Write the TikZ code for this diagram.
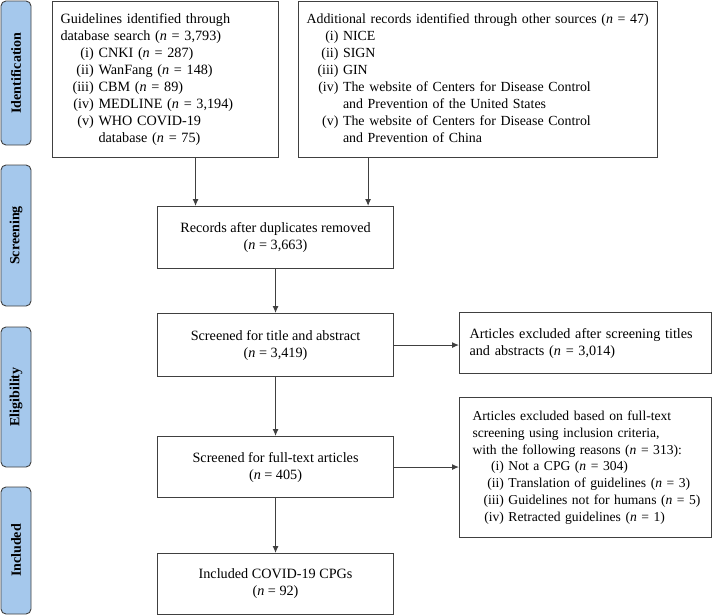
\documentclass[tikz,border=0pt]{standalone}
\usepackage{fontspec}
\setmainfont{Liberation Serif}
\usetikzlibrary{arrows.meta,positioning}
\definecolor{barblue}{RGB}{165,200,236}
\definecolor{linegray}{RGB}{64,64,64}
\newcommand{\nval}[1]{(\textit{n} = #1)}
\newcommand{\boxfont}{\fontsize{14.2}{17}\selectfont}

\begin{document}
\begin{tikzpicture}[x=1pt,y=-1pt,
    box/.style={draw=linegray,line width=1.1pt,rectangle,inner sep=0pt,font=\boxfont},
    phase/.style={draw=linegray,fill=barblue,rounded corners=5pt,line width=0.9pt,
      rotate=90,minimum height=30pt,inner sep=0pt,font=\fontsize{14}{16}\selectfont\bfseries},
    arr/.style={-{Latex[length=7pt,width=6pt]},linegray,line width=1pt}]
  \useasboundingbox (0,0) rectangle (713,616);
  % Stage bars
  \node[phase,minimum width=144pt] (ident) at (16,73) {Identification};
  \node[phase,minimum width=141pt] (screen) at (16,235.5) {Screening};
  \node[phase,minimum width=140pt] (elig) at (16,397) {Eligibility};
  \node[phase,minimum width=127pt] (incl) at (16,550.5) {Included};
  % Sources
  \node[box,anchor=north west,minimum width=226pt,minimum height=156pt,
    text width=210pt,align=left] (guide) at (52,1) {%
    \begin{tabular}{@{\hspace{12pt}}r@{ }l@{}}
      \multicolumn{2}{@{}l@{}}{Guidelines identified through}\\
      \multicolumn{2}{@{}l@{}}{database search \nval{3,793}}\\
      (i) & CNKI \nval{287}\\
      (ii) & WanFang \nval{148}\\
      (iii) & CBM \nval{89}\\
      (iv) & MEDLINE \nval{3,194}\\
      (v) & WHO COVID-19\\
      & database \nval{75}
    \end{tabular}};
  \node[box,anchor=north west,minimum width=359pt,minimum height=156pt,
    text width=343pt,align=left,font=\fontsize{13.9}{17}\selectfont] (other) at (298,1) {%
    \begin{tabular}{@{\hspace{11pt}}r@{ }l@{}}
      \multicolumn{2}{@{}l@{}}{Additional records identified through other sources \nval{47}}\\
      (i) & NICE\\
      (ii) & SIGN\\
      (iii) & GIN\\
      (iv) & The website of Centers for Disease Control\\
      & and Prevention of the United States\\
      (v) & The website of Centers for Disease Control\\
      & and Prevention of China
    \end{tabular}};
  % Main flow
  \node[box,anchor=north west,minimum width=236pt,minimum height=62pt,align=center]
    (records) at (157,206) {Records after duplicates removed\\\nval{3,663}};
  \node[box,anchor=north west,minimum width=236pt,minimum height=63pt,align=center]
    (title) at (157,313) {Screened for title and abstract\\\nval{3,419}};
  \node[box,anchor=north west,minimum width=236pt,minimum height=61pt,align=center]
    (full) at (157,436) {Screened for full-text articles\\\nval{405}};
  \node[box,anchor=north west,minimum width=236pt,minimum height=61pt,align=center]
    (final) at (157,553) {Included COVID-19 CPGs\\\nval{92}};
  % Exclusions
  \node[box,anchor=north west,minimum width=252pt,minimum height=61pt,
    text width=232pt,align=left] (excla) at (459,312)
    {Articles excluded after screening titles\\and abstracts \nval{3,014}};
  \node[box,anchor=north west,minimum width=252pt,minimum height=140pt,
    text width=226pt,align=left,font=\fontsize{13.6}{16.8}\selectfont] (exclb) at (459,397) {%
    \begin{tabular}{@{\hspace{11pt}}r@{ }l@{}}
      \multicolumn{2}{@{}l@{}}{Articles excluded based on full-text}\\
      \multicolumn{2}{@{}l@{}}{screening using inclusion criteria,}\\
      \multicolumn{2}{@{}l@{}}{with the following reasons \nval{313}:}\\
      (i) & Not a CPG \nval{304}\\
      (ii) & Translation of guidelines \nval{3}\\
      (iii) & Guidelines not for humans \nval{5}\\
      (iv) & Retracted guidelines \nval{1}
    \end{tabular}};
  % Arrows
  \draw[arr] ([xshift=30pt]guide.south) -- ([xshift=30pt]guide.south |- records.north);
  \draw[arr] ([xshift=-26pt]records.north east |- other.south) -- ([xshift=-26pt]records.north east);
  \draw[arr] (records) -- (title);
  \draw[arr] (title.east) -- (title.east -| excla.west);
  \draw[arr] (title) -- (full);
  \draw[arr] (full.east) -- (full.east -| exclb.west);
  \draw[arr] (full) -- (final);
\end{tikzpicture}
\end{document}
